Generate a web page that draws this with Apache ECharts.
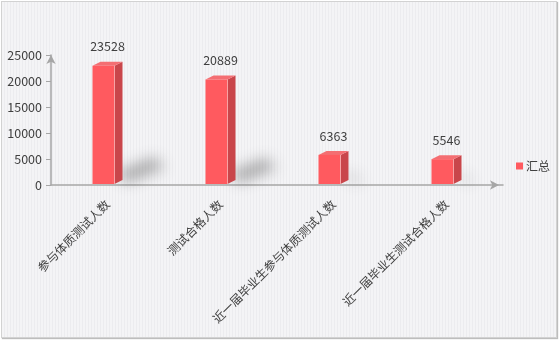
<!DOCTYPE html>
<html><head><meta charset="utf-8">
<script src="https://cdn.jsdelivr.net/npm/echarts@6/dist/echarts.min.js"></script>
<style>
html,body{margin:0;padding:0;background:#fff;}
#frame{position:absolute;left:1px;top:1px;width:554px;height:335px;border:1px solid #d2d2d2;box-shadow:1px 1px 1px #bdbdbd;
background:repeating-linear-gradient(90deg,#f4f4f6 0px,#f4f4f6 2px,#ececef 2px,#ececef 3px);}
#chart{position:absolute;left:0;top:0;width:559px;height:343px;}
</style></head>
<body>
<div id="frame"></div>
<div id="chart"></div>
<script>
const categories = ['参与体质测试人数', '测试合格人数', '近一届毕业生参与体质测试人数', '近一届毕业生测试合格人数'];
const values = [23528, 20889, 6363, 5546];
const seriesName = '汇总';
const yMin = 0, yMax = 25000, yInterval = 5000;

const FONT = '"Noto Sans CJK SC", "Noto Sans", sans-serif';
const chart = echarts.init(document.getElementById('chart'), null, {renderer: 'canvas'});

function renderItem(params, api) {
  const idx = api.value(0), v = api.value(1);
  const top = api.coord([idx, v]);
  const base = api.coord([idx, 0]);
  const cx = top[0];
  const yT = top[1] + 3, yB = base[1] - 1;
  const fw = 22, sw = 8, dy = 4;
  const x0 = cx - 15, x1 = x0 + fw, x2 = x1 + sw;
  const h = yB - yT;
  const L = Math.min(40, h * 0.33 + 4);
  const op = Math.min(0.42, 0.12 + h / 350);
  const OFF = 3000;
  const sp = [[x2 - 6, yB - 12], [x2 + L - 8, yB - L * 0.62 - 2], [x2 + L + 2, yB - L * 0.55 + 6], [x2 + 4, yB - 1]]
    .map(p => [p[0] - OFF, p[1]]);
  return {
    type: 'group',
    children: [
      {type: 'polygon', shape: {points: sp},
        style: {fill: '#000', shadowColor: 'rgba(70,70,70,' + op + ')', shadowBlur: 14, shadowOffsetX: OFF, shadowOffsetY: 0}},
      {type: 'polygon', shape: {points: [[x1, yT], [x2, yT - dy], [x2, yB - dy], [x1, yB]]}, style: {fill: '#C9464B'}},
      {type: 'polygon', shape: {points: [[x0, yT], [x1, yT], [x2, yT - dy], [x0 + sw, yT - dy]]}, style: {fill: '#F46E72'}},
      {type: 'rect', shape: {x: x0, y: yT, width: fw, height: yB - yT}, style: {fill: '#FF5A5F'}},
      {type: 'line', shape: {x1: x1, y1: yT, x2: x1, y2: yB}, style: {stroke: '#F7A3A5', lineWidth: 1}},
      {type: 'text', style: {text: String(v), x: cx, y: yT - 19, textAlign: 'center', textVerticalAlign: 'middle',
        fill: '#404040', font: '12.5px ' + FONT}}
    ]
  };
}

chart.setOption({
  backgroundColor: 'transparent',
  animation: false,
  textStyle: {fontFamily: FONT},
  legend: {
    data: [seriesName], left: 511, top: 155, icon: 'rect', itemWidth: 7, itemHeight: 7, itemGap: 4,
    textStyle: {color: '#404040', fontSize: 12, fontFamily: FONT, padding: [0, 0, 0, -2]}
  },
  grid: {left: 51, right: 56, top: 55, bottom: 158, containLabel: false},
  xAxis: {
    type: 'category', data: categories,
    axisLine: {lineStyle: {color: '#a6a6a6', width: 1.5}, symbol: ['none', 'arrow'], symbolSize: [7, 9], symbolOffset: [0, -4]},
    axisTick: {show: false},
    axisLabel: {rotate: 45, margin: 17, color: '#404040', fontSize: 12, fontFamily: FONT, interval: 0}
  },
  yAxis: {
    type: 'value', min: yMin, max: yMax, interval: yInterval,
    axisLine: {show: true, lineStyle: {color: '#a6a6a6', width: 1.5}, symbol: ['none', 'arrow'], symbolSize: [7, 9]},
    axisTick: {show: true, length: 5, lineStyle: {color: '#a6a6a6'}},
    splitLine: {show: false},
    axisLabel: {margin: 9, color: '#404040', fontSize: 12.5, fontFamily: FONT, formatter: v => String(v)}
  },
  series: [{
    name: seriesName, type: 'custom', renderItem: renderItem,
    itemStyle: {color: '#FF5A5F'},
    encode: {x: 0, y: 1},
    data: values.map((v, i) => [i, v])
  }]
});
</script>
</body></html>
